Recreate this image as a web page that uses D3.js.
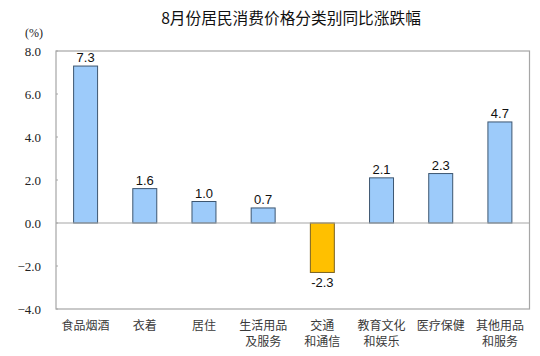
<!DOCTYPE html>
<html><head><meta charset="utf-8">
<script src="https://cdn.jsdelivr.net/npm/d3@7"></script>
<style>body{margin:0;background:#fff}svg{display:block}</style>
</head><body>
<svg id="c" width="540" height="356"></svg>
<script>
const title = "8月份居民消费价格分类别同比涨跌幅";
const unitLabel = "(%)";
const categories = [["食品烟酒"],["衣着"],["居住"],["生活用品","及服务"],["交通","和通信"],["教育文化","和娱乐"],["医疗保健"],["其他用品","和服务"]];
const values = [7.3, 1.6, 1.0, 0.7, -2.3, 2.1, 2.3, 4.7];
const yTicks = [-4, -2, 0, 2, 4, 6, 8];

const svg = d3.select("#c");
const m = {l:56, r:529.5, t:51, b:309};
const x = d3.scaleBand().domain(d3.range(values.length)).range([m.l, m.r]).paddingInner(0.595).paddingOuter(0.2975);
const y = d3.scaleLinear().domain([-4, 8]).range([m.b, m.t]);

svg.append("text").attr("x", 291).attr("y", 24).attr("text-anchor","middle")
  .attr("font-family","'Noto Sans CJK SC', sans-serif").attr("font-size", 15.7).attr("fill","#111").text(title);
svg.append("text").attr("x", 34).attr("y", 37).attr("text-anchor","middle")
  .attr("font-family","'Liberation Serif', serif").attr("font-size", 12).attr("fill","#222").text(unitLabel);

// frame
svg.append("rect").attr("x", m.l).attr("y", m.t).attr("width", m.r - m.l).attr("height", m.b - m.t)
  .attr("fill","none").attr("stroke","#a6a6a6").attr("stroke-width",1.2);

const yAxis = d3.axisLeft(y).tickValues(yTicks).tickFormat(d3.format(".1f")).tickSize(0).tickPadding(15);
const ga = svg.append("g").attr("transform",`translate(${m.l},0)`).call(yAxis);
ga.select(".domain").remove();
ga.selectAll("text").attr("font-family","'Liberation Serif', serif").attr("font-size", 13).attr("fill","#222");
// small inner ticks
svg.append("g").selectAll("line").data(yTicks).join("line")
  .attr("x1", m.l).attr("x2", m.l + 2).attr("y1", d => y(d)).attr("y2", d => y(d))
  .attr("stroke","#a6a6a6");

// bars
svg.append("g").selectAll("rect").data(values).join("rect")
  .attr("x", (d,i) => x(i)).attr("width", x.bandwidth())
  .attr("y", d => y(Math.max(0,d))).attr("height", d => Math.abs(y(d) - y(0)))
  .attr("fill", d => d < 0 ? "#ffc000" : "#9dcbfa")
  .attr("stroke", d => d < 0 ? "#7a6220" : "#3d5670").attr("stroke-width", 1);

// zero line
svg.append("line").attr("x1", m.l).attr("x2", m.r).attr("y1", y(0)).attr("y2", y(0))
  .attr("stroke","#a6a6a6").attr("stroke-width",1.2);

// value labels
svg.append("g").selectAll("text").data(values).join("text")
  .attr("x", (d,i) => x(i) + x.bandwidth()/2)
  .attr("y", d => d >= 0 ? y(d) - 4 : y(d) + 15)
  .attr("text-anchor","middle").attr("font-family","'Liberation Sans', Arial, sans-serif")
  .attr("font-size", 13).attr("fill","#111").text(d => d.toFixed(1));

// category labels
const cg = svg.append("g").selectAll("text").data(categories).join("text")
  .attr("x", (d,i) => x(i) + x.bandwidth()/2).attr("y", 330)
  .attr("text-anchor","middle").attr("font-family","'Noto Sans CJK SC', sans-serif")
  .attr("font-size", 12).attr("fill","#3a3a3a");
cg.selectAll("tspan").data(d => d).join("tspan")
  .attr("x", function(){ return this.parentNode.getAttribute("x"); })
  .attr("dy", (d,i) => i === 0 ? 0 : 16).text(d => d);
</script>
</body></html>
